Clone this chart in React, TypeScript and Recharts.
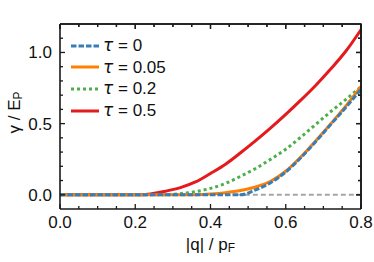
import { LineChart, Line, XAxis, YAxis, ReferenceLine } from 'recharts';

// |q| / p_F grid
const qValues = [0, 0.04, 0.08, 0.12, 0.16, 0.2, 0.24, 0.28, 0.32, 0.36, 0.4, 0.44, 0.48, 0.52, 0.56, 0.6, 0.64, 0.68, 0.72, 0.76, 0.8];
// gamma / E_P for each tau
const tau0 = [0, 0, 0, 0, 0, 0, 0, 0, 0, 0, 0, 0, 0, 0.035, 0.085, 0.16, 0.26, 0.375, 0.495, 0.615, 0.74];
const tau005 = [0, 0, 0, 0, 0, 0, 0, 0, 0, 0.001, 0.006, 0.015, 0.03, 0.055, 0.095, 0.165, 0.265, 0.38, 0.5, 0.625, 0.76];
const tau02 = [0, 0, 0, 0, 0, 0, 0, 0, 0.008, 0.022, 0.045, 0.08, 0.13, 0.185, 0.25, 0.32, 0.405, 0.495, 0.585, 0.67, 0.76];
const tau05 = [0, 0, 0, 0, 0, 0, 0.006, 0.025, 0.05, 0.09, 0.15, 0.215, 0.295, 0.38, 0.47, 0.565, 0.665, 0.77, 0.885, 1.01, 1.16];

const tauLabels = ['0', '0.05', '0.2', '0.5'];

const xTicks = [0, 0.05, 0.1, 0.15, 0.2, 0.25, 0.3, 0.35, 0.4, 0.45, 0.5, 0.55, 0.6, 0.65, 0.7, 0.75, 0.8];
const yTicks = [0, 0.1, 0.2, 0.3, 0.4, 0.5, 0.6, 0.7, 0.8, 0.9, 1.0, 1.1];

const data = qValues.map((q, i) => ({
  q,
  t0: tau0[i],
  t005: tau005[i],
  t02: tau02[i],
  t05: tau05[i],
}));

const series = [
  { key: 't0', color: '#377eb8', dash: '5.5 2', label: tauLabels[0] },
  { key: 't005', color: '#ff7f00', dash: undefined, label: tauLabels[1] },
  { key: 't02', color: '#4daf4a', dash: '3 3', label: tauLabels[2] },
  { key: 't05', color: '#e41a1c', dash: undefined, label: tauLabels[3] },
];

const W = 374;
const H = 262;
const margin = { top: 4, right: 0, bottom: 0, left: 0 };
const TOP_AXIS_H = 20;
const RIGHT_AXIS_W = 13;
const Y_AXIS_W = 60;
const X_AXIS_H = 53;
const PLOT_W = W - margin.left - margin.right - Y_AXIS_W - RIGHT_AXIS_W;
const PLOT_H = H - margin.top - margin.bottom - X_AXIS_H - TOP_AXIS_H;

const INK = '#1a1a1a';
const FONT = '"Liberation Sans", Arial, sans-serif';
const isMajor = (v: number, step: number) => Math.abs(v / step - Math.round(v / step)) < 1e-6;

// bottom tick, plus the mirrored tick on the top edge; the first tick also closes the frame
const BottomTick = (props: any) => {
  const { x, y, payload } = props;
  const major = isMajor(payload.value, 0.2);
  const len = major ? 5 : 3;
  const top = y - PLOT_H;
  return (
    <g>
      <line x1={x} x2={x} y1={y} y2={y - len} stroke={INK} strokeWidth={1.3} />
      <line x1={x} x2={x} y1={top} y2={top + len} stroke={INK} strokeWidth={1.3} />
      {payload.value === 0 && (
        <polyline
          points={`${x},${top} ${x + PLOT_W},${top} ${x + PLOT_W},${y}`}
          fill="none"
          stroke={INK}
          strokeWidth={1.6}
        />
      )}
      {major && (
        <text x={x} y={y + 19} textAnchor="middle" fontSize={17} fill="#111111">
          {payload.value.toFixed(1)}
        </text>
      )}
    </g>
  );
};

const TopTick = (props: any) => {
  const { x, y, payload } = props;
  const major = isMajor(payload.value, 0.2);
  return <line x1={x} x2={x} y1={y} y2={y + (major ? 5 : 3)} stroke={INK} strokeWidth={1.3} />;
};

// left tick, plus the mirrored tick on the right edge
const LeftTick = (props: any) => {
  const { x, y, payload } = props;
  const major = isMajor(payload.value, 0.5);
  const len = major ? 5 : 3;
  return (
    <g>
      <line x1={x} x2={x + len} y1={y} y2={y} stroke={INK} strokeWidth={1.3} />
      <line x1={x + PLOT_W} x2={x + PLOT_W - len} y1={y} y2={y} stroke={INK} strokeWidth={1.3} />
      {major && (
        <text x={x - 8} y={y + 6} textAnchor="end" fontSize={17} fill="#111111">
          {payload.value.toFixed(1)}
        </text>
      )}
    </g>
  );
};

const RightTick = (props: any) => {
  const { x, y, payload } = props;
  const major = isMajor(payload.value, 0.5);
  return <line x1={x} x2={x - (major ? 5 : 3)} y1={y} y2={y} stroke={INK} strokeWidth={1.3} />;
};

const XTitle = (props: any) => {
  const vb = props.viewBox || { x: 60, y: 209, width: 301 };
  return (
    <text x={vb.x + vb.width / 2} y={vb.y + 41} textAnchor="middle" fontSize={17} fill="#111111">
      |q| / p
      <tspan fontSize={12} dy={2}>F</tspan>
    </text>
  );
};

const YTitle = (props: any) => {
  const vb = props.viewBox || { x: 0, y: 24, height: 185 };
  const cx = 20;
  const cy = vb.y + vb.height / 2 - 4;
  return (
    <text x={cx} y={cy} transform={`rotate(-90, ${cx}, ${cy})`} textAnchor="middle" fontSize={17} fill="#111111">
      γ / E
      <tspan fontSize={12} dy={2}>P</tspan>
    </text>
  );
};

const LegendBox = () => (
  <div style={{ position: 'absolute', left: 70, top: 35, fontFamily: FONT, fontSize: 17, color: '#111111' }}>
    {series.map((s) => (
      <div key={s.key} style={{ display: 'flex', alignItems: 'center', height: 21.6 }}>
        <svg width={30} height={8}>
          <line x1={1} x2={29} y1={4} y2={4} stroke={s.color} strokeWidth={3} strokeDasharray={s.dash} />
        </svg>
        <span style={{ marginLeft: 3, whiteSpace: 'nowrap' }}>
          <i style={{ fontFamily: '"DejaVu Sans", sans-serif' }}>τ</i> = {s.label}
        </span>
      </div>
    ))}
  </div>
);

export default function App() {
  return (
    <div style={{ position: 'absolute', left: 0, top: 0, width: W, height: H, fontFamily: FONT }}>
      <LineChart width={W} height={H} data={data} margin={margin}>
        <XAxis
          dataKey="q"
          type="number"
          domain={[0, 0.8]}
          ticks={xTicks}
          interval={0}
          tickSize={0}
          tickMargin={0}
          tickLine={false}
          tick={<BottomTick />}
          height={X_AXIS_H}
          axisLine={{ stroke: INK, strokeWidth: 1.6 }}
          label={<XTitle />}
        />
        <XAxis
          xAxisId="top"
          orientation="top"
          dataKey="q"
          type="number"
          domain={[0, 0.8]}
          ticks={xTicks}
          interval={0}
          tickLine={false}
          tick={<TopTick />}
          tickSize={0}
          tickMargin={0}
          height={TOP_AXIS_H}
          axisLine={{ stroke: INK, strokeWidth: 1.6 }}
        />
        <YAxis
          type="number"
          domain={[-0.1, 1.2]}
          ticks={yTicks}
          interval={0}
          tickSize={0}
          tickMargin={0}
          tickLine={false}
          tick={<LeftTick />}
          width={Y_AXIS_W}
          axisLine={{ stroke: INK, strokeWidth: 1.6 }}
          label={<YTitle />}
        />
        <YAxis
          yAxisId="right"
          orientation="right"
          type="number"
          domain={[-0.1, 1.2]}
          ticks={yTicks}
          interval={0}
          tickLine={false}
          tick={<RightTick />}
          tickSize={0}
          tickMargin={0}
          width={RIGHT_AXIS_W}
          axisLine={{ stroke: INK, strokeWidth: 1.6 }}
        />
        <ReferenceLine
          segment={[{ x: 0.47, y: 0 }, { x: 0.8, y: 0 }]}
          stroke="#a6a6a6"
          strokeWidth={2}
          strokeDasharray="5 3"
        />
        <Line
          dataKey="t05"
          xAxisId="top"
          yAxisId="right"
          type="monotone"
          stroke="#e41a1c"
          strokeWidth={3}
          dot={false}
          isAnimationActive={false}
        />
        <Line dataKey="t02" type="monotone" stroke="#4daf4a" strokeWidth={3} strokeDasharray="3 3" dot={false} isAnimationActive={false} />
        <Line dataKey="t005" type="monotone" stroke="#ff7f00" strokeWidth={3} dot={false} isAnimationActive={false} />
        <Line dataKey="t0" type="monotone" stroke="#377eb8" strokeWidth={3} strokeDasharray="5.5 2" dot={false} isAnimationActive={false} />
      </LineChart>
      <LegendBox />
    </div>
  );
}
